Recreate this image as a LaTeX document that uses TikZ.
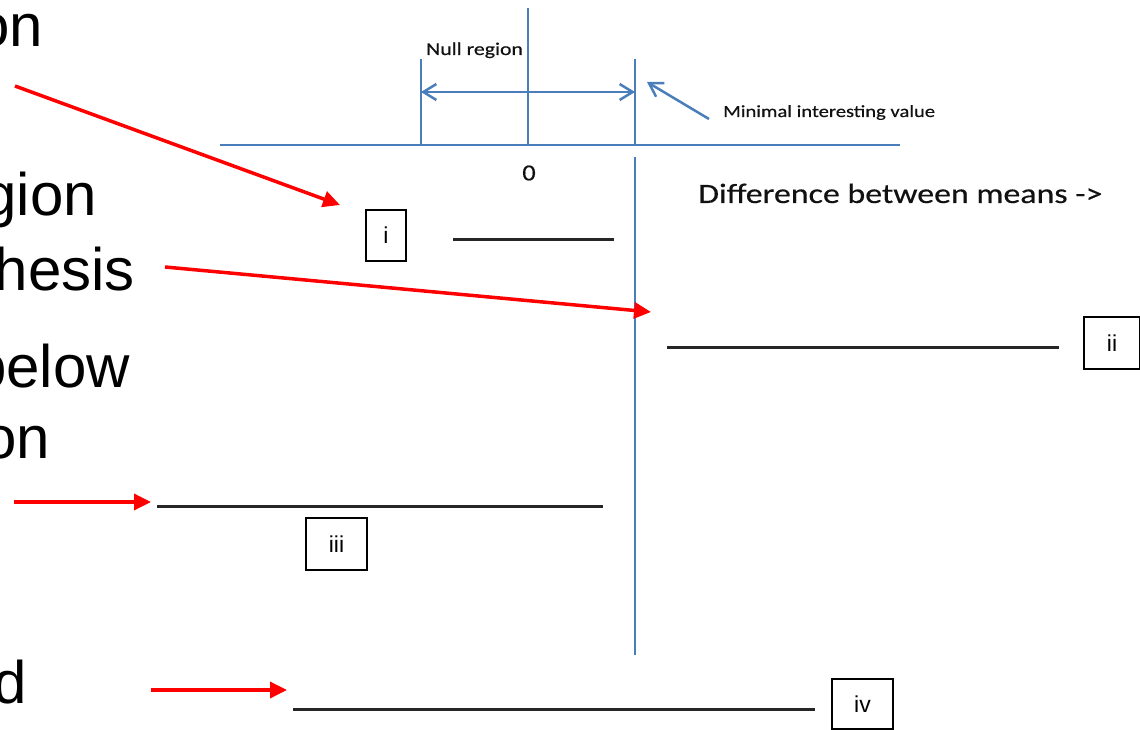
\documentclass[tikz,border=0pt]{standalone}
\usepackage{fontspec}
\usepackage{graphicx}
\setmainfont{Liberation Sans}
\newfontfamily\calfont[FakeBold=0.4]{Carlito}
\usetikzlibrary{arrows.meta}
\definecolor{axisblue}{HTML}{4A7EBB}
\definecolor{linegray}{HTML}{262626}
\definecolor{txtgray}{HTML}{111111}
\tikzset{
  axisline/.style={axisblue, line width=2.5pt},
  barb/.style={axisblue, line width=2.5pt},
  seg/.style={linegray, line width=3pt},
  redarrow/.style={red, line width=3.5pt, -{Triangle[length=17pt,width=16pt]}},
  lblbox/.style={draw=black, line width=1.5pt, inner sep=0, font=\fontsize{23}{25}\selectfont},
  bigtxt/.style={anchor=base east, inner sep=0, font=\fontsize{60}{60}\selectfont},
  caltxt/.style={inner sep=0, text=txtgray},
}
\begin{document}
\begin{tikzpicture}[x=1pt,y=-1pt]
\useasboundingbox (0,0) rectangle (1140,730);

% left large text (cut off at the left edge, as in the reference)
\node[bigtxt] (t1) at (43,47) {on};
\node[bigtxt] (t2) at (97,215) {gion};
\node[bigtxt] (t3) at (135,290) {hesis};
\node[bigtxt] (t4) at (130,387) {below};
\node[bigtxt] (t5) at (50,458) {on};
\node[bigtxt] (t6) at (27,703) {d};

% blue axis system
\coordinate (axL) at (220,145);
\coordinate (axR) at (900,145);
\coordinate (zT) at (528,8);
\coordinate (zB) at (528,145);
\coordinate (nLT) at (421,59);
\coordinate (nLB) at (421,145);
\coordinate (nRT) at (635,59);
\coordinate (nRB) at (635,145);
\coordinate (vT) at (635,157);
\coordinate (vB) at (635,655);
\coordinate (daL) at (421,92);
\coordinate (daR) at (635,92);
\coordinate (maTail) at (709,119);
\coordinate (maTip) at (647,82);

\draw[axisline] (axL) -- (axR);
\draw[axisline] (zT) -- (zB);
\draw[axisline] (nLT) -- (nLB);
\draw[axisline] (nRT) -- (nRB);
\draw[axisline] (vT) -- (vB);
\draw[barb, {Straight Barb[length=13pt,width=16pt]}-{Straight Barb[length=13pt,width=16pt]}] (daL) -- (daR);
\draw[barb, -{Straight Barb[length=13pt,width=16pt]}] (maTail) -- (maTip);

% Calibri-like labels (horizontally stretched like the original)
\node[caltxt, anchor=base west, font=\calfont\fontsize{18}{18}\selectfont] (nullr) at (426,55) {\scalebox{1.21}[1]{Null region}};
\node[caltxt, anchor=base west, font=\calfont\fontsize{17}{17}\selectfont] (minv) at (723,117) {\scalebox{1.21}[1]{Minimal interesting value}};
\node[caltxt, font=\calfont\fontsize{23}{23}\selectfont] (zero) at (529,173) {\scalebox{1.15}[1]{0}};
\node[caltxt, anchor=base west, font=\calfont\fontsize{28}{28}\selectfont] (diff) at (698,203) {\scalebox{1.21}[1]{Difference between means ->}};

% black interval lines
\coordinate (iL) at (453,239);   \coordinate (iR) at (614,239);
\coordinate (iiL) at (667,347);  \coordinate (iiR) at (1059,347);
\coordinate (iiiL) at (157,506); \coordinate (iiiR) at (603,506);
\coordinate (ivL) at (293,709);  \coordinate (ivR) at (815,709);
\draw[seg] (iL) -- (iR);
\draw[seg] (iiL) -- (iiR);
\draw[seg] (iiiL) -- (iiiR);
\draw[seg] (ivL) -- (ivR);

% label boxes
\node[lblbox, minimum width=40pt, minimum height=51pt] (bi) at (386,235.5) {i};
\node[lblbox, minimum width=56pt, minimum height=52pt] (bii) at (1112,343) {ii};
\node[lblbox, minimum width=61pt, minimum height=52pt] (biii) at (336.5,544) {iii};
\node[lblbox, minimum width=61pt, minimum height=50pt] (biv) at (862.5,704) {iv};

% red arrows
\coordinate (r1s) at (15,86);   \coordinate (r1e) at (340,205);
\coordinate (r2s) at (165,267); \coordinate (r2e) at (651,312);
\coordinate (r3s) at (14,502);  \coordinate (r3e) at (151,502);
\coordinate (r4s) at (151,690); \coordinate (r4e) at (287,690);
\draw[redarrow] (r1s) -- (r1e);
\draw[redarrow] (r2s) -- (r2e);
\draw[redarrow] (r3s) -- (r3e);
\draw[redarrow] (r4s) -- (r4e);
\end{tikzpicture}
\end{document}
